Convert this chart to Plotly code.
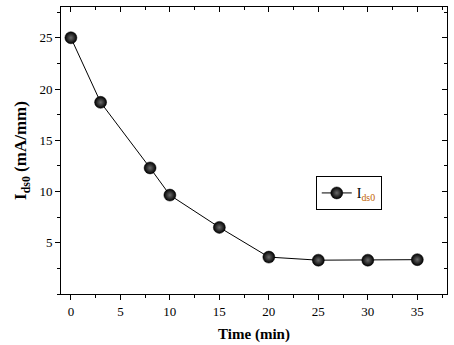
import plotly.graph_objects as go

time_min = [0, 3, 8, 10, 15, 20, 25, 30, 35]
ids0 = [25.0, 18.7, 12.3, 9.65, 6.5, 3.6, 3.3, 3.3, 3.35]
x_ticks = [0, 5, 10, 15, 20, 25, 30, 35]
y_ticks = [5, 10, 15, 20, 25]

FONT = "Liberation Serif"
XR = [-1, 38]
YR = [0, 28]

fig = go.Figure()
fig.add_trace(go.Scatter(
    x=time_min, y=ids0, mode="lines+markers",
    name="I<sub><span style='color:#c06000'>ds0</span></sub>",
    line=dict(color="black", width=1),
    marker=dict(size=12, color="black",
                gradient=dict(type="radial", color="#6a6a6a"),
                line=dict(width=0.5, color="black")),
))

common = dict(showline=True, linecolor="black", linewidth=1, showgrid=False,
              zeroline=False, ticklen=5, tickwidth=1, tickcolor="black")

fig.update_layout(
    width=454, height=345,
    margin=dict(l=61, r=7, t=7, b=51),
    paper_bgcolor="white", plot_bgcolor="white",
    font=dict(family=FONT, size=13, color="black"),
    showlegend=True,
    legend=dict(x=0.66, y=0.41, xanchor="left", yanchor="top",
                bordercolor="black", borderwidth=1, bgcolor="white",
                font=dict(family=FONT, size=14), itemwidth=30,
                tracegroupgap=0),
    xaxis=dict(range=XR, tickvals=x_ticks, ticks="outside",
               minor=dict(dtick=2.5, tick0=0, ticks="outside", ticklen=3, tickcolor="black"),
               title=dict(text="<b>Time (min)</b>", font=dict(size=15, family=FONT), standoff=10),
               **common),
    yaxis=dict(range=YR, tickvals=y_ticks, ticks="outside",
               minor=dict(dtick=2.5, tick0=0, ticks="outside", ticklen=3, tickcolor="black"),
               title=dict(text="<b>I<sub>ds0</sub> (mA/mm)</b>", font=dict(size=17, family=FONT), standoff=8),
               **common),
    xaxis2=dict(range=XR, overlaying="x", side="top", tickvals=x_ticks, ticks="inside",
                showticklabels=False, matches=None,
                minor=dict(dtick=2.5, tick0=0, ticks="inside", ticklen=3, tickcolor="black"),
                **common),
    yaxis2=dict(range=YR, overlaying="y", side="right", tickvals=y_ticks, ticks="inside",
                showticklabels=False,
                minor=dict(dtick=2.5, tick0=0, ticks="inside", ticklen=3, tickcolor="black"),
                **common),
)
fig.add_trace(go.Scatter(x=[None], y=[None], xaxis="x2", yaxis="y2",
                         showlegend=False, hoverinfo="skip"))

fig.write_html("out.html")
